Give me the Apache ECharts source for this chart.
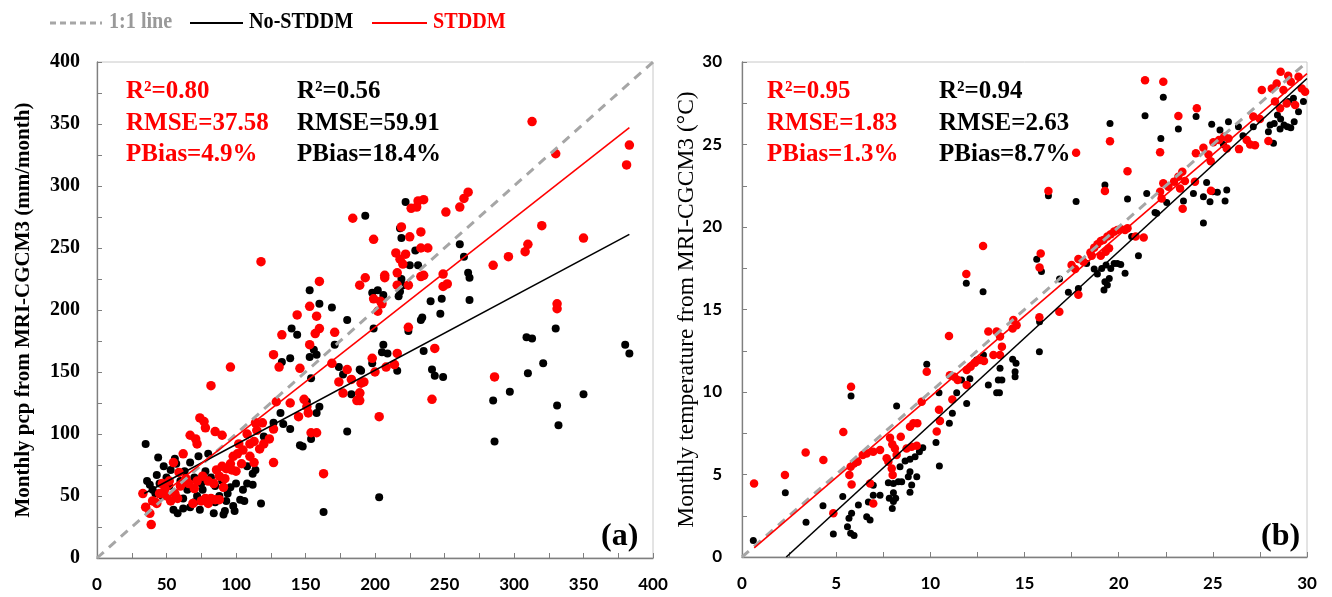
<!DOCTYPE html>
<html>
<head>
<meta charset="utf-8">
<script src="https://cdn.jsdelivr.net/npm/echarts@6/dist/echarts.min.js"></script>
<style>
html,body{margin:0;padding:0;background:#fff;}
#chart{width:1332px;height:597px;}
</style>
</head>
<body>
<div id="chart"></div>
<script>
// ---------------- DATA ----------------
const legendNames = ['1:1 line', 'No-STDDM', 'STDDM'];
const yTitleA = 'Monthly pcp from MRI-CGCM3 (mm/month)';
const yTitleB = 'Monthly temperature from MRI-CGCM3 (\u00B0C)';
const statsRedA = ['R\u00B2=0.80', 'RMSE=37.58', 'PBias=4.9%'];
const statsBlackA = ['R\u00B2=0.56', 'RMSE=59.91', 'PBias=18.4%'];
const statsRedB = ['R\u00B2=0.95', 'RMSE=1.83', 'PBias=1.3%'];
const statsBlackB = ['R\u00B2=0.94', 'RMSE=2.63', 'PBias=8.7%'];
const panelTags = ['(a)', '(b)'];

// (a) precipitation: [observed, MRI-CGCM3]
const pcpNoSTDDM = [
 [35,92],[44,81],[36,62],[38,59],[43,67],[48,74],[53,71],[56,80],[57,76],[55,39],[58,36],[62,40],[67,41],[67,77],[73,82],[80,84],
 [74,39],[78,47],[84,36],[91,35],[92,38],[93,46],[96,57],[98,42],[99,38],[103,47],[100,60],[105,55],[108,60],[108,74],[112,68],
 [114,71],[112,59],[118,44],[120,98],[127,109],[132,117],[133,158],[139,161],[140,185],[144,180],[139,104],[134,108],[146,91],
 [148,90],[151,126],[154,96],[153,162],[154,145],[153,216],[160,205],[169,202],[156,168],[158,164],[160,122],[158,117],[163,37],
 [171,172],[174,154],[180,192],[180,102],[183,132],[177,148],[189,152],
 [40,55],[45,60],[50,65],[52,58],[60,62],[63,70],[65,55],[70,65],[72,50],[75,60],[78,70],[82,65],[85,58],[88,50],[90,62],[94,52],
 [70,45],[62,48],[47,50],[42,52],[85,45],[106,46],[76,55],
 [222,287],[193,276],[218,266],[219,258],[229,248],[225,236],[231,236],[219,225],[220,220],[261,253],[264,243],[267,230],[268,226],
 [198,214],[202,216],[206,212],[217,211],[218,215],[240,207],[248,209],[268,208],[330,185],[309,178],[313,177],[321,157],[310,149],
 [380,172],[383,165],[350,132],[331,123],[332,107],[297,134],[285,127],[286,94],[203,49],[241,152],[243,147],[249,146],[235,167],
 [233,192],[234,194],[247,197],[224,183],[206,172],[205,166],[209,165],[198,157],[199,185],[216,151],[190,151]
];
const pcpSTDDM = [
 [33,52],[35,41],[38,36],[39,27],[43,44],[45,52],[49,56],[53,46],[56,52],[59,69],[55,77],[62,84],[67,99],[71,96],[72,92],[66,60],
 [74,113],[77,110],[78,105],[85,102],[90,99],[82,139],[96,154],[69,44],[85,47],[91,57],[86,71],[90,74],[93,72],[96,76],[98,82],
 [97,71],[101,84],[102,92],[105,87],[108,100],[113,94],[115,103],[114,109],[119,109],[127,104],[129,126],[139,125],[145,114],
 [149,128],[151,122],[152,117],[154,101],[158,101],[127,77],[113,77],[163,68],[127,164],[131,154],[133,180],[144,196],[153,203],
 [153,172],[157,181],[158,195],[160,185],[160,223],[171,182],[146,153],[169,157],[174,142],[177,133],[180,152],[183,144],[187,127],
 [189,133],[192,142],
 [75,46],[78,48],[80,44],[82,48],[88,47],[72,62],[76,66],[80,62],[64,64],[60,58],[52,62],[47,60],[40,46],[50,50],[58,48],[70,56],
 [84,60],[88,66],[92,64],[100,70],[104,76],[110,82],[117,88],[120,92],[124,96],[110,92],
 [118,239],[184,274],
 [313,352],[330,326],[383,333],[381,317],[226,282],[230,283],[231,288],[235,289],[251,279],[261,283],[264,290],[267,295],[219,267],
 [225,259],[233,263],[199,257],[215,246],[218,241],[220,237],[222,245],[233,250],[238,250],[233,227],[235,228],[216,230],[216,220],
 [224,220],[207,228],[207,226],[193,226],[189,220],[249,229],[249,219],[252,221],[199,209],[204,207],[285,236],[296,243],[308,247],
 [310,253],[320,268],[350,258],[331,205],[331,201],[286,146],[203,114],[241,128],[243,169],[224,186],[216,165],[198,161],[200,150],
 [208,154],[214,156],[190,141],[189,133],[189,127],[205,205],[202,199]
];
const pcpOneToOne = [[0,0],[400,400]];
const pcpFitNo = [[34,52],[383,261]];
const pcpFitST = [[34,40],[383,347]];

// (b) temperature: [observed, MRI-CGCM3]
const tmpNoSTDDM = [
 [0.6,1.0],[2.3,3.9],[3.4,2.1],[4.3,3.1],[4.85,1.4],[5.35,3.67],[5.6,1.84],[5.68,2.35],[5.82,2.65],[5.77,1.44],[5.95,1.3],[6.18,3.15],
 [6.62,2.44],[6.8,2.24],[6.71,3.33],[6.97,3.74],[7.33,3.74],[6.97,4.35],[7.77,4.5],[8.04,4.46],[8.3,4.56],[8.48,4.56],[7.82,3.56],
 [8.04,3.36],[7.98,2.94],[8.16,3.56],[8.04,3.9],[8.39,5.47],[8.66,5.82],[8.92,5.17],[8.92,5.92],[9.19,6.07],[9.42,6.38],[9.6,6.62],
 [8.83,4.87],[9.01,4.36],[8.92,3.92],[9.28,4.87],[9.81,11.68],[5.79,9.76],[8.21,9.15],[10.46,9.96],[10.3,6.94],[10.51,8.25],
 [10.48,5.51],[11.01,8.1],[11.17,8.71],[11.4,9.96],[11.66,10.73],[11.93,9.31],[12.1,10.8],[12.82,12.24],[12.46,11.94],[13.08,10.42],
 [13.52,9.96],[13.67,9.96],[13.61,10.73],[13.7,11.44],[13.8,10.73],[14.37,11.98],[14.55,11.74],[14.5,11.23],[14.5,10.93],
 [11.91,16.59],[12.8,16.08],
 [22.37,27.86],[21.4,26.75],[24.11,26.7],[23.17,25.94],[22.24,25.37],[19.54,26.28],[16.27,21.9],[17.74,21.54],[19.27,22.55],
 [20.47,21.69],[21.49,22.03],[23.44,21.58],[23.97,22.03],[24.5,21.83],[24.85,21.53],[25.0,22.14],[25.24,22.1],[25.74,22.24],
 [25.65,21.57],[24.5,20.25],[24.67,22.69],[22.02,20.84],[24.94,26.22],[25.83,26.38],[26.36,26.08],[26.6,25.53],[27.15,26.08],
 [25.38,25.88],[25.56,25.0],[28.04,26.18],[27.95,25.78],[28.26,26.28],[28.43,26.79],[28.6,26.55],[28.78,26.18],[28.96,26.08],
 [29.14,26.02],[29.32,26.38],[29.55,26.99],[29.81,27.6],[29.02,27.6],[29.28,27.8],[28.57,25.94],[28.22,25.07],
 [15.65,18.05],[15.9,17.3],[17.33,16.04],[17.86,16.28],[18.3,17.79],[18.7,17.45],[18.87,17.15],[19.1,17.49],[19.33,17.7],
 [19.58,17.49],[19.76,17.79],[19.93,17.79],[20.11,17.73],[20.34,17.19],[19.27,16.68],[19.22,16.18],[19.4,16.48],[19.5,16.88],
 [20.69,19.42],[21.05,18.26],[16.86,16.85],[21.93,20.88],[22.55,21.49],[15.8,14.26],[15.79,12.44]
];
const tmpSTDDM = [
 [0.64,4.46],[2.28,4.97],[3.38,6.34],[4.32,5.88],[5.38,7.58],[4.85,2.65],[5.79,10.32],[5.77,5.47],[5.7,4.97],[5.95,5.67],[6.14,5.77],
 [6.41,6.18],[6.62,6.28],[5.82,4.4],[6.8,4.46],[6.97,3.24],[6.97,6.38],[7.33,6.48],[7.68,5.98],[7.86,7.23],[7.98,6.83],[8.12,6.58],
 [8.43,7.29],[7.77,5.78],[7.95,5.37],[8.0,4.97],[8.21,6.18],[8.74,6.58],[9.01,6.68],[9.28,6.74],[8.92,7.9],[9.1,8.1],[9.31,8.1],
 [9.54,9.41],[9.81,11.23],[10.34,7.6],[10.46,8.92],[10.51,8.25],[10.99,13.4],[11.04,11.02],[11.17,9.55],[11.27,10.93],[11.45,10.73],
 [11.93,10.42],[11.93,11.33],[12.14,11.53],[12.37,11.78],[12.64,11.94],[12.85,11.88],[13.08,13.66],[13.52,13.66],[13.7,13.36],
 [13.35,12.24],[13.7,12.24],[13.8,12.75],[14.41,14.36],[14.58,14.05],[14.37,13.85],
 [12.8,18.85],[11.91,17.15],
 [21.4,28.9],[22.37,28.8],[24.15,27.2],[23.17,26.73],[22.2,24.53],[19.54,25.2],[17.74,24.5],[20.47,23.38],[16.27,22.18],[19.27,22.18],
 [22.2,22.14],[22.37,22.65],[22.64,22.44],[22.94,22.75],[23.17,23.05],[23.38,23.35],[23.52,22.79],[23.26,22.34],[22.28,21.73],
 [24.9,22.2],[23.4,21.1],[24.05,22.75],[24.1,24.47],[24.5,24.8],[24.77,24.4],[25.03,25.13],[25.33,25.27],[25.6,25.47],[25.83,25.37],
 [25.74,24.76],[24.89,23.99],[26.39,24.72],[26.98,25.0],[27.24,24.96],[26.8,25.27],[27.15,26.69],[27.5,26.55],[27.6,28.3],
 [28.13,28.4],[28.6,29.41],[29.0,29.17],[29.14,28.81],[29.55,29.11],[29.72,28.4],[28.75,28.3],[28.39,28.7],[28.3,27.6],[28.57,27.19],
 [28.92,27.49],[29.37,27.39],[29.9,28.2],[27.95,25.21],
 [15.86,18.4],[15.8,17.55],[17.5,17.7],[17.69,17.45],[17.86,18.06],[18.13,17.9],[18.5,18.46],[18.7,18.75],[18.87,18.95],[19.05,19.15],
 [19.19,19.21],[19.4,19.42],[19.58,19.56],[19.76,19.72],[19.93,19.82],[20.11,19.88],[20.34,19.82],[20.47,19.92],[18.57,18.26],
 [19.05,18.26],[19.31,18.5],[19.49,18.71],[20.9,19.42],[21.33,19.36],[17.86,15.9],[15.79,14.53],[16.85,14.87]
];
const tmpOneToOne = [[0,0],[30,30]];
const tmpFitNo = [[2.35,0],[30,29.0]];
const tmpFitST = [[0.65,0.55],[30,29.3]];

// ---------------- STYLE ----------------
const SERIF = '"Liberation Serif","Times New Roman",serif';
const SANS = 'Lato,"Open Sans",sans-serif';
const RED = '#ff0000';
const GRAY = '#a6a6a6';

function axis(gridIndex, max, interval, labelFont, labelSize, margin, extra) {
  return Object.assign({
    type: 'value', gridIndex, min: 0, max, interval,
    axisLine: {show: true, onZero: false, lineStyle: {color: '#7f7f7f', width: 1.3}},
    axisTick: {show: true, inside: true, length: 5, lineStyle: {color: '#7f7f7f'}},
    minorTick: {show: true, splitNumber: 2, length: 5, lineStyle: {color: '#7f7f7f'}},
    splitLine: {show: false},
    axisLabel: {fontFamily: labelFont, fontWeight: 'bold', fontSize: labelSize, color: '#000', margin}
  }, extra || {});
}

const chart = echarts.init(document.getElementById('chart'), null, {renderer: 'canvas'});

function scatter(name, x, y, data, color, size) {
  return {type: 'scatter', name, xAxisIndex: x, yAxisIndex: y, data, symbolSize: size,
    itemStyle: {color, opacity: 1}, silent: true, z: 2};
}
function line(name, x, y, data, color, width, type) {
  return {type: 'line', name, xAxisIndex: x, yAxisIndex: y, data, symbol: 'none',
    lineStyle: {color, width, type}, itemStyle: {color}, silent: true, z: 5, animation: false};
}

function statTexts(lines, x, color) {
  return lines.map((t, i) => ({
    type: 'text', x, y: 92 + i * 31.5,
    style: {text: t, fill: color, font: 'bold 25px ' + SERIF, verticalAlign: 'middle'}
  }));
}

// legend drawn as graphic: [x of line start, line end, text x, colour, dash]
const legendItems = [
  {x1: 50, x2: 102, tx: 109, color: GRAY, dash: [6, 4], width: 3},
  {x1: 190, x2: 243, tx: 249, color: '#000', dash: null, width: 2.2},
  {x1: 372, x2: 427, tx: 433, color: RED, dash: null, width: 2.2}
];
const legendGraphics = [];
legendItems.forEach((it, i) => {
  legendGraphics.push({type: 'line', shape: {x1: it.x1, y1: 23, x2: it.x2, y2: 23},
    style: {stroke: it.color, lineWidth: it.width, lineDash: it.dash}});
  legendGraphics.push({type: 'text', x: it.tx, y: 22, scaleX: 0.84, scaleY: 1,
    style: {text: legendNames[i], fill: i === 0 ? '#999999' : it.color, font: 'bold 24px ' + SERIF, verticalAlign: 'middle'}});
});

const option = {
  animation: false,
  backgroundColor: '#fff',
  grid: [
    {left: 97, top: 62, width: 556, height: 496, show: true, borderColor: '#c8c8c8', borderWidth: 1},
    {left: 742, top: 62, width: 565, height: 495, show: true, borderColor: '#c8c8c8', borderWidth: 1}
  ],
  xAxis: [
    axis(0, 400, 50, SANS, 17, 18),
    axis(1, 30, 5, SANS, 17, 18)
  ],
  yAxis: [
    axis(0, 400, 50, SERIF, 20, 17, {name: yTitleA, nameLocation: 'middle', nameGap: 63,
      nameTextStyle: {fontFamily: SERIF, fontWeight: 'bold', fontSize: 21, color: '#000'}}),
    axis(1, 30, 5, SANS, 17, 20, {name: yTitleB, nameLocation: 'middle', nameGap: 42,
      nameTextStyle: {fontFamily: SERIF, fontWeight: 'normal', fontSize: 23.5, color: '#000'}})
  ],
  series: [
    scatter('pts-no-a', 0, 0, pcpNoSTDDM, '#000', 8),
    scatter('pts-st-a', 0, 0, pcpSTDDM, RED, 9.5),
    scatter('pts-no-b', 1, 1, tmpNoSTDDM, '#000', 7),
    scatter('pts-st-b', 1, 1, tmpSTDDM, RED, 8.5),
    line(legendNames[0], 0, 0, pcpOneToOne, GRAY, 3, [9, 7]),
    line(legendNames[1], 0, 0, pcpFitNo, '#000', 1.6, 'solid'),
    line(legendNames[2], 0, 0, pcpFitST, RED, 1.6, 'solid'),
    line(legendNames[0], 1, 1, tmpOneToOne, GRAY, 3, [9, 7]),
    line(legendNames[1], 1, 1, tmpFitNo, '#000', 1.6, 'solid'),
    line(legendNames[2], 1, 1, tmpFitST, RED, 1.6, 'solid')
  ],
  graphic: [].concat(
    legendGraphics,
    statTexts(statsRedA, 126, RED),
    statTexts(statsBlackA, 297, '#000'),
    statTexts(statsRedB, 767, RED),
    statTexts(statsBlackB, 939, '#000'),
    [
      {type: 'text', x: 601, y: 537, style: {text: panelTags[0], fill: '#000', font: 'bold 32px ' + SERIF, verticalAlign: 'middle'}},
      {type: 'text', x: 1261, y: 537, style: {text: panelTags[1], fill: '#000', font: 'bold 32px ' + SERIF, verticalAlign: 'middle'}}
    ]
  )
};
chart.setOption(option);
</script>
</body>
</html>
